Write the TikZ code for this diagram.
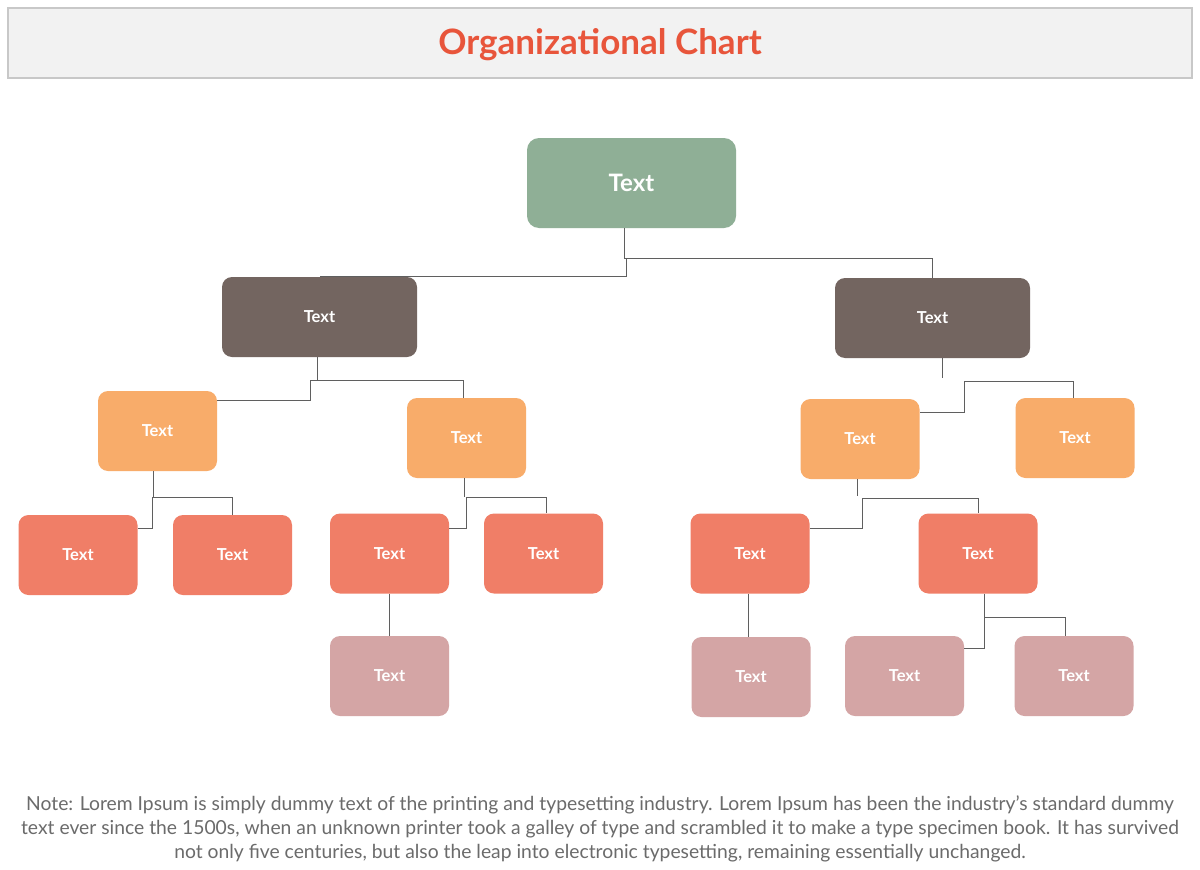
\documentclass[tikz,border=0pt]{standalone}
\usepackage{fontspec}
\setmainfont{Lato}
\definecolor{cgreen}{HTML}{8FAF96}
\definecolor{cbrown}{HTML}{736560}
\definecolor{corange}{HTML}{F8AC6A}
\definecolor{cred}{HTML}{F07E67}
\definecolor{cpink}{HTML}{D4A5A5}
\definecolor{ctitle}{HTML}{E8553B}
\definecolor{cnote}{HTML}{6B6B6B}
\definecolor{cline}{HTML}{5F5F5F}
\definecolor{ctbg}{HTML}{F2F2F2}
\definecolor{ctbd}{HTML}{C8C8C8}
\begin{document}
\begin{tikzpicture}[x=1pt,y=-1pt,
  box/.style={rounded corners=10pt, text=white, inner sep=0pt,
    font=\fontsize{16.5}{18}\selectfont\bfseries},
  small/.style={box, minimum width=119pt, minimum height=80pt},
  mid/.style={box, minimum width=195pt, minimum height=80pt, fill=cbrown},
  conn/.style={draw=cline, line width=0.9pt}]
\useasboundingbox (0,0) rectangle (1200,870);
\fill[white] (0,0) rectangle (1200,870);
\node[draw=ctbd, fill=ctbg, line width=1.2pt, minimum width=1184pt, minimum height=70pt, inner sep=0pt]
  (title) at (600,43) {};
\node[text=ctitle, inner sep=0pt, font=\fontsize{35}{38}\selectfont\bfseries] (ttext) at (600,45) {Organizational Chart};

\node[box, fill=cgreen, minimum width=209pt, minimum height=90pt, rounded corners=12pt,
  font=\fontsize{24}{28}\selectfont\bfseries] (root) at (631.5,183) {Text};
\node[mid] (A) at (319.5,317) {Text};
\node[mid] (B) at (932.5,318) {Text};
\node[small, fill=corange] (A1) at (157.5,431) {Text};
\node[small, fill=corange] (A2) at (466.5,438) {Text};
\node[small, fill=corange] (B1) at (860,439) {Text};
\node[small, fill=corange] (B2) at (1075,438) {Text};
\node[small, fill=cred] (A11) at (78,555) {Text};
\node[small, fill=cred] (A12) at (232.5,555) {Text};
\node[small, fill=cred] (A21) at (389.5,553.5) {Text};
\node[small, fill=cred] (A22) at (543.5,553.5) {Text};
\node[small, fill=cred] (B11) at (750,553.5) {Text};
\node[small, fill=cred] (B12) at (978,553.5) {Text};
\node[small, fill=cpink] (A211) at (389.5,676) {Text};
\node[small, fill=cpink] (B111) at (751,677) {Text};
\node[small, fill=cpink] (B121) at (904.5,676) {Text};
\node[small, fill=cpink] (B122) at (1074,676) {Text};

% root
\coordinate (j0) at (624,258);
\coordinate (j1) at (626,258);
\draw[conn] (root.south -| j0) -- (j0) -- (B.north |- j0) -- (B.north);
\draw[conn] (j1) |- (A.north);
% A
\coordinate (ja) at (310,380);
\draw[conn] (A.south -| 317,0) -- (317,380);
\draw[conn] (ja) -- (463,380) -- (A2.north -| 463,0);
\draw[conn] (ja) -- (310,400) -- (A1.east |- 0,400);
% B
\coordinate (jb) at (964,381);
\draw[conn] (B.south -| 942,0) -- (942,378);
\draw[conn] (jb) -- (1073,381) -- (B2.north -| 1073,0);
\draw[conn] (jb) -- (964,412) -- (B1.east |- 0,412);
% A1
\coordinate (ja1) at (152,497);
\draw[conn] (A1.south -| 153,0) -- (153,497);
\draw[conn] (ja1) -- (232,497) -- (A12.north -| 232,0);
\draw[conn] (ja1) -- (152,528) -- (A11.east |- 0,528);
% A2
\coordinate (ja2) at (466,497);
\draw[conn] (A2.south -| 464,0) -- (464,497);
\draw[conn] (ja2) -- (546,497) -- (A22.north -| 546,0);
\draw[conn] (ja2) -- (466,528) -- (A21.east |- 0,528);
% A21
\draw[conn] (A21.south) -- (A211.north);
% B1
\coordinate (jb1) at (862,498);
\draw[conn] (B1.south -| 857,0) -- (857,496);
\draw[conn] (jb1) -- (978,498) -- (B12.north -| 978,0);
\draw[conn] (jb1) -- (862,528) -- (B11.east |- 0,528);
% B11
\draw[conn] (B11.south -| 748,0) -- (B111.north -| 748,0);
% B12
\coordinate (jb2) at (984,617);
\draw[conn] (B12.south -| 984,0) -- (jb2) -- (1065,617) -- (B122.north -| 1065,0);
\draw[conn] (jb2) -- (984,648) -- (B121.east |- 0,648);

\node[text=cnote, align=center, inner sep=0pt, font=\fontsize{19.3}{24}\selectfont] (note) at (600,829)
{Note: Lorem Ipsum is simply dummy text of the printing and typesetting industry. Lorem Ipsum has been the industry\symbol{39}s standard dummy\\
text ever since the 1500s, when an unknown printer took a galley of type and scrambled it to make a type specimen book. It has survived\\
not only five centuries, but also the leap into electronic typesetting, remaining essentially unchanged.};
\end{tikzpicture}
\end{document}
